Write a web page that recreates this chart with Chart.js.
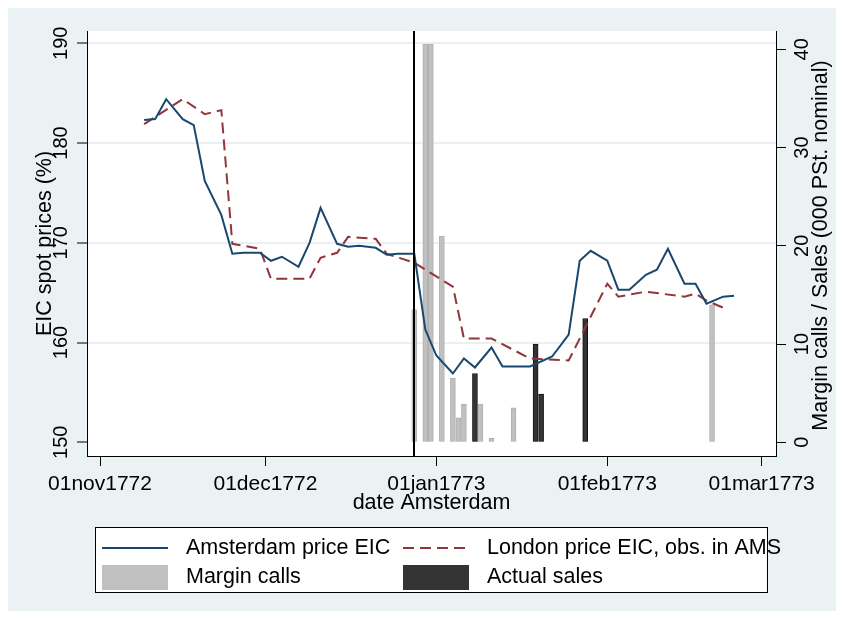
<!DOCTYPE html>
<html>
<head>
<meta charset="utf-8">
<title>EIC spot prices and margin calls</title>
<script src="https://cdn.jsdelivr.net/npm/chart.js@4.4.0/dist/chart.umd.min.js"></script>
<style>
  html, body { margin: 0; padding: 0; background: #fff; }
  #wrap { width: 844px; height: 619px; }
</style>
</head>
<body>
<div id="wrap"><canvas id="chart" width="844" height="619"></canvas></div>
<script>
// x values are days after 01nov1772 (linear axis, no date adapter available)
const amsDates = ['1772-11-09','1772-11-11','1772-11-13','1772-11-16','1772-11-18','1772-11-20','1772-11-23',
  '1772-11-25','1772-11-27','1772-11-30','1772-12-02','1772-12-04','1772-12-07','1772-12-09','1772-12-11',
  '1772-12-14','1772-12-16','1772-12-18','1772-12-21','1772-12-23','1772-12-25','1772-12-28','1772-12-30',
  '1773-01-01','1773-01-04','1773-01-06','1773-01-08','1773-01-11','1773-01-13','1773-01-15','1773-01-18',
  '1773-01-22','1773-01-25','1773-01-27','1773-01-29','1773-02-01','1773-02-03','1773-02-05','1773-02-08',
  '1773-02-10','1773-02-12','1773-02-15','1773-02-17','1773-02-19','1773-02-22','1773-02-24'];
const amsPrice = [182.3,182.4,184.4,182.4,181.8,176.2,172.8,
  168.9,169.0,169.0,168.2,168.6,167.6,170.0,173.5,
  169.9,169.6,169.7,169.5,168.8,168.9,168.9,161.3,
  158.7,156.9,158.4,157.5,159.5,157.6,157.6,157.6,
  158.6,160.8,168.2,169.2,168.2,165.3,165.3,166.8,
  167.3,169.4,165.9,165.9,163.9,164.6,164.7];

const lonDates = ['1772-11-09','1772-11-16','1772-11-20','1772-11-23','1772-11-25','1772-11-30','1772-12-02',
  '1772-12-09','1772-12-11','1772-12-14','1772-12-16','1772-12-21','1772-12-23','1772-12-28','1773-01-04',
  '1773-01-06','1773-01-11','1773-01-18','1773-01-25','1773-02-01','1773-02-03','1773-02-08','1773-02-15',
  '1773-02-17','1773-02-19','1773-02-22'];
const lonPrice = [181.9,184.4,182.9,183.3,169.9,169.4,166.4,
  166.4,168.5,169.0,170.6,170.4,168.9,168.0,165.6,
  160.4,160.4,158.4,158.2,165.9,164.6,165.1,164.6,
  164.9,164.2,163.5];

const marginDates = ['1772-12-28','1772-12-30','1772-12-31','1773-01-02','1773-01-04','1773-01-05',
  '1773-01-06','1773-01-09','1773-01-11','1773-01-15','1773-02-20'];
const marginCalls = [13.5,40.5,40.5,21.0,6.5,2.5,3.9,3.9,0.4,3.5,14.0];

const salesDates = ['1773-01-08','1773-01-19','1773-01-20','1773-01-28'];
const actualSales = [7.0,10.0,4.9,12.6];

const eventDate = '1772-12-28';

const xTickDates = ['1772-11-01','1772-12-01','1773-01-01','1773-02-01','1773-03-01'];
const xTickLabels = ['01nov1772','01dec1772','01jan1773','01feb1773','01mar1773'];
const priceTicks = [150,160,170,180,190];
const volumeTicks = [0,10,20,30,40];

const FONT = '"Liberation Sans", Arial, Helvetica, sans-serif';
const origin = Date.parse('1772-11-01');
function dayOf(d) { return (Date.parse(d) - origin) / 86400000; }
function pts(dates, vals) { return dates.map((d, i) => ({ x: dayOf(d), y: vals[i] })); }

Chart.defaults.font.family = FONT;
Chart.defaults.color = '#000';

const framePlugin = {
  id: 'frame',
  beforeDraw(chart) {
    const c = chart.ctx, a = chart.chartArea;
    c.save();
    c.fillStyle = '#fff';
    c.fillRect(0, 0, chart.width, chart.height);
    c.fillStyle = '#EAF2F3';
    c.fillRect(8, 8, 828, 603);
    c.fillStyle = '#fff';
    c.fillRect(a.left, a.top, a.right - a.left, a.bottom - a.top);
    c.restore();
  },
  afterDatasetsDraw(chart) {
    const c = chart.ctx, a = chart.chartArea;
    const x = Math.round(chart.scales.x.getPixelForValue(dayOf(eventDate)));
    c.save();
    c.strokeStyle = '#000';
    c.lineWidth = 2;
    c.beginPath();
    c.moveTo(x, a.top);
    c.lineTo(x, a.bottom);
    c.stroke();
    c.restore();
  },
  afterDraw(chart) {
    const c = chart.ctx, a = chart.chartArea;
    c.save();
    c.fillStyle = '#000';
    c.font = '21.5px ' + FONT;
    c.textAlign = 'center';
    c.textBaseline = 'middle';
    // axis titles
    c.fillText('date Amsterdam', (a.left + a.right) / 2, 503);
    c.save();
    c.translate(45, (a.top + a.bottom) / 2);
    c.rotate(-Math.PI / 2);
    c.fillText('EIC spot prices (%)', 0, 0);
    c.restore();
    c.save();
    c.translate(821, (a.top + a.bottom) / 2 + 2);
    c.rotate(-Math.PI / 2);
    c.fillText('Margin calls / Sales (000 PSt. nominal)', 0, 0);
    c.restore();

    // legend, 2 x 2
    c.fillStyle = '#fff';
    c.fillRect(95, 527, 672, 65);
    c.strokeStyle = '#000';
    c.lineWidth = 1;
    c.strokeRect(95.5, 527.5, 672, 65);
    const ds = chart.data.datasets;
    const slots = [[102, 548], [403, 548], [102, 577], [403, 577]];
    ds.forEach((d, i) => {
      const [sx, sy] = slots[i];
      if (d.type === 'bar') {
        c.fillStyle = d.backgroundColor;
        c.fillRect(sx, sy - 12, 66, 25);
      } else {
        c.strokeStyle = d.borderColor;
        c.lineWidth = 2;
        c.setLineDash(d.borderDash || []);
        c.beginPath();
        c.moveTo(sx, sy);
        c.lineTo(sx + 66, sy);
        c.stroke();
        c.setLineDash([]);
      }
      c.fillStyle = '#000';
      c.textAlign = 'left';
      c.fillText(d.label, sx + 84, sy);
    });
    c.restore();
  }
};

new Chart(document.getElementById('chart'), {
  type: 'line',
  data: {
    datasets: [
      {
        type: 'line', label: 'Amsterdam price EIC', data: pts(amsDates, amsPrice),
        borderColor: '#1A476F', borderWidth: 2, pointRadius: 0, tension: 0, yAxisID: 'y', order: 0
      },
      {
        type: 'line', label: 'London price EIC, obs. in AMS', data: pts(lonDates, lonPrice),
        borderColor: '#90353B', borderWidth: 2, borderDash: [11, 6], pointRadius: 0, tension: 0, yAxisID: 'y', order: 0
      },
      {
        type: 'bar', label: 'Margin calls', data: pts(marginDates, marginCalls),
        backgroundColor: '#C0C0C0', borderColor: '#B0B0B0', borderWidth: 1,
        barThickness: 5, grouped: false, yAxisID: 'y2', order: 2
      },
      {
        type: 'bar', label: 'Actual sales', data: pts(salesDates, actualSales),
        backgroundColor: '#333333', borderColor: '#111111', borderWidth: 1,
        barThickness: 5, grouped: false, yAxisID: 'y2', order: 1
      }
    ]
  },
  options: {
    responsive: false,
    animation: false,
    devicePixelRatio: 1,
    layout: { padding: { top: 31, left: 0, right: 0, bottom: 103 } },
    plugins: { legend: { display: false }, tooltip: { enabled: false } },
    scales: {
      x: {
        type: 'linear', min: -2.36, max: 122.6, offset: false,
        afterBuildTicks: s => { s.ticks = xTickDates.map(d => ({ value: dayOf(d) })); },
        afterFit: s => { s.height = 60; },
        ticks: { autoSkip: false, minRotation: 0, maxRotation: 0, padding: 6,
          font: { size: 21 }, callback: (v, i) => xTickLabels[i] },
        grid: { offset: false, drawOnChartArea: false, tickLength: 10, tickColor: '#000' },
        border: { display: true, color: '#000', width: 1 }
      },
      y: {
        position: 'left', min: 148.627, max: 191.233,
        afterBuildTicks: s => { s.ticks = priceTicks.map(v => ({ value: v })); },
        afterFit: s => { s.width = 87; },
        ticks: { minRotation: 90, maxRotation: 90, crossAlign: 'center', padding: -1, font: { size: 20 } },
        grid: {
          color: ctx => (ctx.tick && ctx.tick.value === 150) ? 'rgba(0,0,0,0)' : '#E8F0F2',
          lineWidth: 2, tickLength: 10, tickColor: '#000', tickWidth: 1
        },
        border: { display: true, color: '#000', width: 1 }
      },
      y2: {
        position: 'right', min: -1.394, max: 41.863,
        afterBuildTicks: s => { s.ticks = volumeTicks.map(v => ({ value: v })); },
        afterFit: s => { s.width = 68; },
        ticks: { minRotation: 90, maxRotation: 90, crossAlign: 'center', padding: 5, font: { size: 20 } },
        grid: { drawOnChartArea: false, tickLength: 10, tickColor: '#000' },
        border: { display: true, color: '#000', width: 1 }
      }
    }
  },
  plugins: [framePlugin]
});
</script>
</body>
</html>
